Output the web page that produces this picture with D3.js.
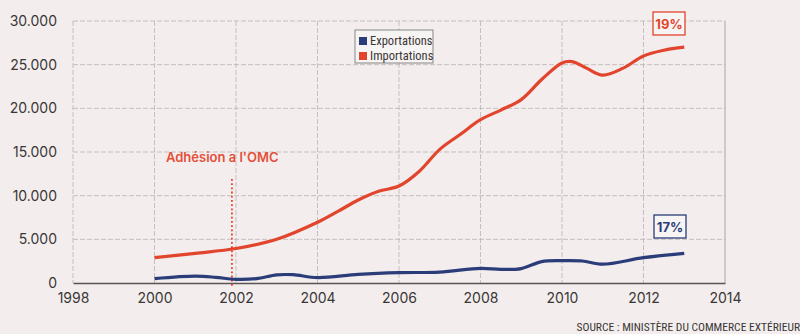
<!DOCTYPE html>
<html><head><meta charset="utf-8">
<script src="https://cdn.jsdelivr.net/npm/d3@7"></script>
<style>
html,body{margin:0;padding:0;background:#f3eeed;}
svg{display:block;}
</style></head>
<body><svg id="c" width="800" height="334"></svg>
<script>
const xTicks = [1998, 2000, 2002, 2004, 2006, 2008, 2010, 2012, 2014];
const yTicks = [0, 5000, 10000, 15000, 20000, 25000, 30000];
const seriesNames = ["Exportations", "Importations"];
const seriesColors = ["#2b3d78", "#e2452d"];
const importYears = [2000, 2001, 2002, 2003, 2004, 2004.5, 2005, 2005.5, 2006, 2006.5, 2007, 2007.5, 2008, 2008.5, 2009, 2009.5, 2010, 2010.25, 2010.6, 2011, 2011.5, 2012, 2012.5, 2013];
const importValues = [2900, 3400, 3950, 5000, 6950, 8200, 9500, 10500, 11100, 12800, 15300, 17000, 18700, 19800, 21000, 23300, 25200, 25350, 24600, 23800, 24600, 26000, 26650, 27000];
const exportYears = [2000, 2001, 2001.5, 2002, 2002.5, 2003, 2003.4, 2004, 2005, 2006, 2007, 2008, 2008.5, 2009, 2009.5, 2010, 2010.5, 2011, 2012, 2013];
const exportValues = [500, 780, 650, 420, 500, 930, 950, 620, 980, 1180, 1250, 1680, 1560, 1650, 2450, 2560, 2520, 2150, 2900, 3400];
const wtoYear = 2001.9;
const wtoLabel = "Adhésion a l'OMC";
const pctLabels = ["17%", "19%"];
const sourceText = "SOURCE : MINISTÈRE DU COMMERCE EXTÉRIEUR";

const svg = d3.select("#c");
const x = d3.scaleLinear().domain([1998, 2014]).range([73, 725]);
const y = d3.scaleLinear().domain([0, 30000]).range([283, 21]);
const fmt = v => d3.format(",")(v).replace(/,/g, ".");
const font = "Inter, Roboto, 'Noto Sans', sans-serif";
const narrow = "'Liberation Sans Narrow', 'Roboto Condensed', Roboto, sans-serif";

// grid
svg.append("g").selectAll("line").data(yTicks.filter(d => d > 0)).join("line")
  .attr("x1", x(1998)).attr("x2", x(2014)).attr("y1", d => y(d)).attr("y2", d => y(d))
  .attr("stroke", "#b9b4b4").attr("stroke-width", 0.8).attr("stroke-dasharray", "5,2");
svg.append("g").selectAll("line").data(xTicks).join("line")
  .attr("x1", d => x(d)).attr("x2", d => x(d)).attr("y1", y(30000)).attr("y2", y(0))
  .attr("stroke", d => d === 2014 ? "#9a9595" : "#b9b4b4").attr("stroke-width", 0.8)
  .attr("stroke-dasharray", d => d === 2014 ? null : "5,2");

// axes
const yAxis = svg.append("g").attr("transform", `translate(${x(1998)},0)`)
  .call(d3.axisLeft(y).tickValues(yTicks).tickFormat(fmt).tickSize(0).tickPadding(16));
yAxis.select(".domain").remove();
yAxis.selectAll("text").attr("font-family", font).attr("font-size", 14).attr("fill", "#3a3636");

const xAxis = svg.append("g").attr("transform", `translate(0,${y(0)})`)
  .call(d3.axisBottom(x).tickValues(xTicks).tickFormat(d3.format("d")).tickSize(0).tickPadding(10));
xAxis.select(".domain").attr("stroke", "#5a5555").attr("stroke-width", 1.3);
xAxis.selectAll("text").attr("font-family", font).attr("font-size", 14).attr("fill", "#3a3636");

// WTO marker
svg.append("line").attr("x1", x(wtoYear)).attr("x2", x(wtoYear)).attr("y1", 179).attr("y2", y(0) + 5)
  .attr("stroke", "#e8402a").attr("stroke-width", 1.8).attr("stroke-dasharray", "1.8,2.4");
svg.append("text").attr("x", 166).attr("y", 162).text(wtoLabel)
  .attr("font-family", font).attr("font-weight", 600).attr("font-size", 13).attr("fill", "#e2503a");

// lines
const line = d3.line().curve(d3.curveCatmullRom.alpha(0.5));
const imp = importYears.map((d, i) => [x(d), y(importValues[i])]);
const exp = exportYears.map((d, i) => [x(d), y(exportValues[i])]);
svg.append("path").attr("d", line(imp)).attr("fill", "none").attr("stroke", seriesColors[1]).attr("stroke-width", 3.2);
svg.append("path").attr("d", line(exp)).attr("fill", "none").attr("stroke", seriesColors[0]).attr("stroke-width", 3.2);

// legend
const lg = svg.append("g").attr("transform", "translate(355,30)");
lg.append("rect").attr("width", 78).attr("height", 33).attr("fill", "#f7f4f4").attr("stroke", "#8a8585").attr("stroke-width", 1);
seriesNames.forEach((n, i) => {
  lg.append("rect").attr("x", 4).attr("y", 7 + i * 15).attr("width", 8).attr("height", 8).attr("fill", seriesColors[i]);
  lg.append("text").attr("x", 15).attr("y", 15 + i * 15).text(n)
    .attr("font-family", narrow).attr("font-size", 12.5).attr("fill", "#3a3636");
});

// percent boxes
const boxes = [
  {t: pctLabels[1], x: 653, y: 12, c: "#e2452d"},
  {t: pctLabels[0], x: 654, y: 215, c: "#2b3d78"}
];
boxes.forEach(b => {
  svg.append("rect").attr("x", b.x).attr("y", b.y).attr("width", 32).attr("height", 23)
    .attr("fill", "#f7f4f4").attr("stroke", b.c).attr("stroke-width", 1.3);
  svg.append("text").attr("x", b.x + 16).attr("y", b.y + 16.5).attr("text-anchor", "middle").text(b.t)
    .attr("font-family", font).attr("font-weight", 700).attr("font-size", 13).attr("fill", b.c);
});

// source
svg.append("text").attr("x", 800).attr("y", 331).attr("text-anchor", "end").text(sourceText)
  .attr("font-family", narrow).attr("font-size", 11.5).attr("fill", "#3a3636");
</script></body></html>
